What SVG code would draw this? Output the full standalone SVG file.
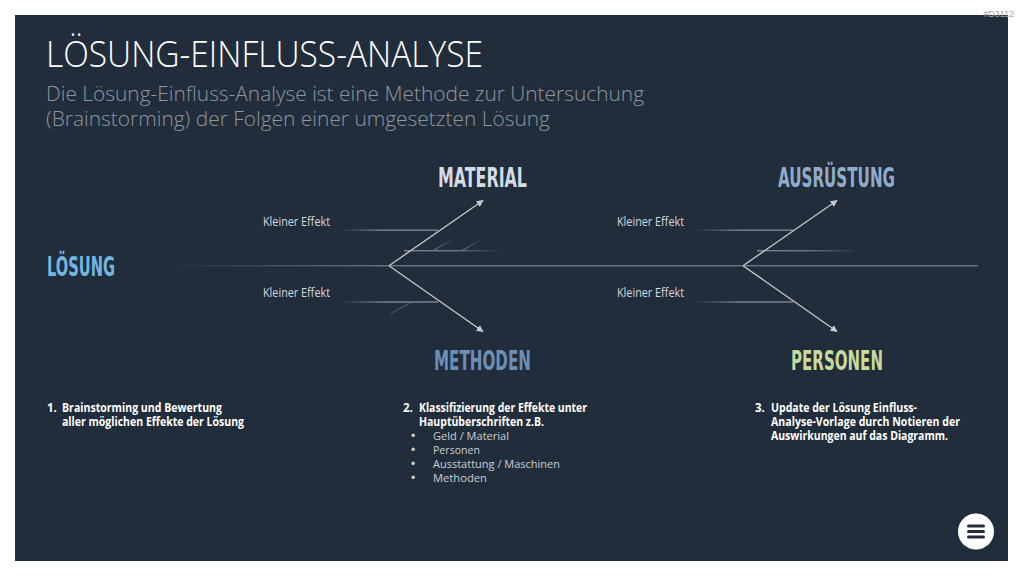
<svg xmlns="http://www.w3.org/2000/svg" width="1024" height="576" viewBox="0 0 1024 576">
<style>
.title{font-family:"Open Sans","Liberation Sans",sans-serif;font-weight:300;font-size:37px;fill:#ffffff}
.sub{font-family:"Open Sans","Liberation Sans",sans-serif;font-weight:300;font-size:19.5px;fill:#8d969f}
.cat{font-family:"DejaVu Sans Condensed","Liberation Sans Narrow",sans-serif;font-weight:bold;font-size:27px}
.small{font-family:"Open Sans","Liberation Sans",sans-serif;font-size:12.5px;fill:#d3d8de}
.step{font-family:"Open Sans","Liberation Sans",sans-serif;font-weight:bold;font-size:11.5px;fill:#ffffff}
.bul{font-family:"Open Sans","Liberation Sans",sans-serif;font-size:11.5px;fill:#c9cfd6}
.dot{font-family:"Liberation Sans",sans-serif;font-size:12px;fill:#c9cfd6}
.arrow{stroke:#c6c9cd;stroke-width:1.3;fill:none;marker-end:url(#ah)}
</style>
<defs>
<marker id="ah" viewBox="0 0 10 10" refX="9" refY="5" markerWidth="7" markerHeight="7" markerUnits="userSpaceOnUse" orient="auto">
<path d="M0,0 L10,5 L0,10 z" fill="#c6c9cd"/>
</marker>
<linearGradient id="fadeL" x1="0" y1="0" x2="1" y2="0">
<stop offset="0" stop-color="#7b8593" stop-opacity="0"/>
<stop offset="0.45" stop-color="#7b8593" stop-opacity="1"/>
<stop offset="1" stop-color="#7b8593" stop-opacity="1"/>
</linearGradient>
<linearGradient id="fadeR" x1="0" y1="0" x2="1" y2="0">
<stop offset="0" stop-color="#7b8593" stop-opacity="1"/>
<stop offset="0.5" stop-color="#7b8593" stop-opacity="0.8"/>
<stop offset="1" stop-color="#7b8593" stop-opacity="0"/>
</linearGradient>
<linearGradient id="spine" x1="0" y1="0" x2="1" y2="0">
<stop offset="0" stop-color="#6a7583" stop-opacity="0"/>
<stop offset="0.26" stop-color="#6a7583" stop-opacity="1"/>
<stop offset="1" stop-color="#6a7583" stop-opacity="1"/>
</linearGradient>
<linearGradient id="diag" x1="0" y1="1" x2="1" y2="0">
<stop offset="0" stop-color="#6a7583" stop-opacity="1"/>
<stop offset="1" stop-color="#6a7583" stop-opacity="0"/>
</linearGradient>
</defs>
<rect x="0" y="0" width="1024" height="576" fill="#ffffff"/>
<rect x="15" y="15" width="993" height="546" fill="#222d3b"/>
<text x="1014" y="17" text-anchor="end" font-family="Liberation Sans, sans-serif" font-size="9" fill="#a5a5a5">#D3112</text>
<g id="header">
<text class="title" x="46" y="67" textLength="437" lengthAdjust="spacingAndGlyphs">LÖSUNG-EINFLUSS-ANALYSE</text>
<text class="sub" x="46" y="101" textLength="598" lengthAdjust="spacingAndGlyphs">Die Lösung-Einfluss-Analyse ist eine Methode zur Untersuchung</text>
<text class="sub" x="46" y="126" textLength="504" lengthAdjust="spacingAndGlyphs">(Brainstorming) der Folgen einer umgesetzten Lösung</text>
</g>
<g id="connectors">
<rect x="170" y="265" width="808" height="1.4" fill="url(#spine)"/>
<rect x="340" y="229.5" width="98" height="1.4" fill="url(#fadeL)"/>
<rect x="404" y="250" width="100" height="1.4" fill="url(#fadeR)"/>
<rect x="340" y="301.3" width="98" height="1.4" fill="url(#fadeL)"/>
<rect x="695" y="229.5" width="98" height="1.4" fill="url(#fadeL)"/>
<rect x="757" y="250" width="104" height="1.4" fill="url(#fadeR)"/>
<rect x="695" y="301.3" width="98" height="1.4" fill="url(#fadeL)"/>
<path d="M433,250.5 L454,239" stroke="url(#diag)" stroke-width="1.2" fill="none"/>
<path d="M462,250.5 L483,239" stroke="url(#diag)" stroke-width="1.2" fill="none"/>
<line x1="412" y1="302" x2="391" y2="313.5" stroke="#5e6977" stroke-width="1.1" opacity="0.7"/>
<line class="arrow" x1="389" y1="265.7" x2="483" y2="200.5"/>
<line class="arrow" x1="389" y1="265.7" x2="483" y2="331.5"/>
<line class="arrow" x1="743" y1="265.7" x2="837" y2="200.5"/>
<line class="arrow" x1="743" y1="265.7" x2="837" y2="331.5"/>
</g>
<g id="node-loesung">
<text class="cat" x="47" y="276" fill="#72b6e2" textLength="68" lengthAdjust="spacingAndGlyphs">LÖSUNG</text>
</g>
<g id="node-material">
<text class="cat" x="438" y="187" fill="#d3dce6" textLength="89" lengthAdjust="spacingAndGlyphs">MATERIAL</text>
</g>
<g id="node-ausruestung">
<text class="cat" x="778" y="187" fill="#90acca" textLength="117" lengthAdjust="spacingAndGlyphs">AUSRÜSTUNG</text>
</g>
<g id="node-methoden">
<text class="cat" x="434" y="370" fill="#6c8fb7" textLength="97" lengthAdjust="spacingAndGlyphs">METHODEN</text>
</g>
<g id="node-personen">
<text class="cat" x="791" y="370" fill="#c7da9b" textLength="92" lengthAdjust="spacingAndGlyphs">PERSONEN</text>
</g>
<g id="effect-labels">
<text class="small" x="263" y="226" textLength="67" lengthAdjust="spacingAndGlyphs">Kleiner Effekt</text>
<text class="small" x="263" y="297" textLength="67" lengthAdjust="spacingAndGlyphs">Kleiner Effekt</text>
<text class="small" x="617" y="226" textLength="67" lengthAdjust="spacingAndGlyphs">Kleiner Effekt</text>
<text class="small" x="617" y="297" textLength="67" lengthAdjust="spacingAndGlyphs">Kleiner Effekt</text>
</g>
<g id="step1">
<text class="step" x="47" y="412">1.</text>
<text class="step" x="62" y="412" textLength="160" lengthAdjust="spacingAndGlyphs">Brainstorming und Bewertung</text>
<text class="step" x="62" y="426" textLength="182" lengthAdjust="spacingAndGlyphs">aller möglichen Effekte der Lösung</text>
</g>
<g id="step2">
<text class="step" x="403" y="412">2.</text>
<text class="step" x="419" y="412" textLength="168" lengthAdjust="spacingAndGlyphs">Klassifizierung der Effekte unter</text>
<text class="step" x="419" y="426" textLength="125" lengthAdjust="spacingAndGlyphs">Hauptüberschriften z.B.</text>
<text class="dot" x="411" y="440">•</text>
<text class="bul" x="433" y="440" textLength="76" lengthAdjust="spacingAndGlyphs">Geld / Material</text>
<text class="dot" x="411" y="454">•</text>
<text class="bul" x="433" y="454" textLength="47" lengthAdjust="spacingAndGlyphs">Personen</text>
<text class="dot" x="411" y="468">•</text>
<text class="bul" x="433" y="468" textLength="127" lengthAdjust="spacingAndGlyphs">Ausstattung / Maschinen</text>
<text class="dot" x="411" y="482">•</text>
<text class="bul" x="433" y="482" textLength="54" lengthAdjust="spacingAndGlyphs">Methoden</text>
</g>
<g id="step3">
<text class="step" x="755" y="412">3.</text>
<text class="step" x="771" y="412" textLength="146" lengthAdjust="spacingAndGlyphs">Update der Lösung Einfluss-</text>
<text class="step" x="771" y="426" textLength="189" lengthAdjust="spacingAndGlyphs">Analyse-Vorlage durch Notieren der</text>
<text class="step" x="771" y="440" textLength="177" lengthAdjust="spacingAndGlyphs">Auswirkungen auf das Diagramm.</text>
</g>
<g id="menu-icon">
<circle cx="976" cy="531.5" r="18" fill="#ffffff"/>
<rect x="967" y="524.5" width="18" height="3" rx="1.5" fill="#222d3b"/>
<rect x="967" y="530" width="18" height="3" rx="1.5" fill="#222d3b"/>
<rect x="967" y="535.5" width="18" height="3" rx="1.5" fill="#222d3b"/>
</g>
</svg>
